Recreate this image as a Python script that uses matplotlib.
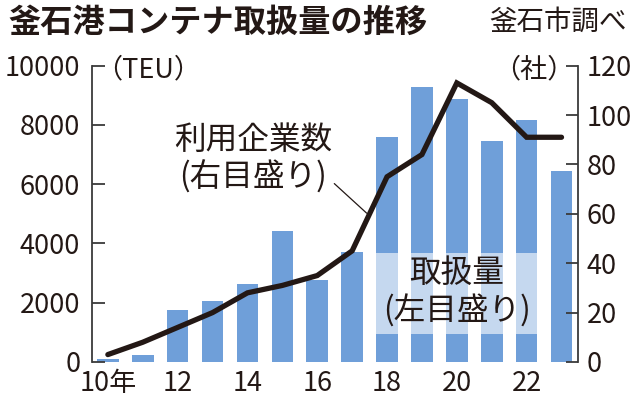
import numpy as np
import matplotlib
matplotlib.use("Agg")
import matplotlib.pyplot as plt
from matplotlib.patches import Rectangle

plt.rcParams['font.family'] = ['Noto Sans CJK JP', 'DejaVu Sans']

years = [2010, 2011, 2012, 2013, 2014, 2015, 2016, 2017, 2018, 2019, 2020, 2021, 2022, 2023]
xlabels = ['10年', '', '12', '', '14', '', '16', '', '18', '', '20', '', '22', '']
teu = [110, 250, 1770, 2050, 2630, 4410, 2780, 3720, 7600, 9290, 8870, 7470, 8160, 6440]
companies = [3, 8, 14, 20, 28, 31, 35, 45, 75, 84, 113, 105, 91, 91]

ink = '#231815'
bar_c = '#6f9fd9'
spine_c = '#3a3a3a'

fig = plt.figure(figsize=(6.4, 4.01), dpi=100)
ax = fig.add_axes([0.144, 0.0973, 0.759, 0.739])
x = np.arange(len(years))
ax.bar(x, teu, width=0.62, color=bar_c, zorder=1)
ax.set_xlim(-0.45, 13.47)
ax.set_ylim(0, 10000)
ax.set_yticks([0, 2000, 4000, 6000, 8000, 10000])
ax.set_xticks(x)
ax.set_xticklabels(xlabels)
for s in ['top', 'bottom', 'right']:
    ax.spines[s].set_visible(False)
ax.spines['left'].set_color(spine_c)
ax.spines['left'].set_linewidth(1.3)
ax.tick_params(axis='y', direction='in', length=9, width=1.3, color=spine_c,
               labelsize=19.5, pad=8.5, labelcolor=ink)
ax.tick_params(axis='x', length=0, labelsize=19.5, pad=5.5, labelcolor=ink)

# highlight box behind left-axis label
ax.add_patch(Rectangle((8 - 0.31, 950), 4.62, 2720, facecolor='white',
                       alpha=0.6, edgecolor='none', zorder=2))
ax.text(10.0, 2990, '取扱量', ha='center', va='center', fontsize=22.8, color=ink, zorder=3)
ax.text(10.0, 1700, '(左目盛り)', ha='center', va='center', fontsize=22.8, color=ink, zorder=3)

ax2 = ax.twinx()
ax2.set_ylim(0, 120)
ax2.set_yticks([0, 20, 40, 60, 80, 100, 120])
ax2.plot(x, companies, color=ink, lw=3.8, solid_capstyle='round', solid_joinstyle='miter', zorder=4)
for s in ['top', 'bottom', 'left']:
    ax2.spines[s].set_visible(False)
ax2.spines['right'].set_color(spine_c)
ax2.spines['right'].set_linewidth(1.3)
ax2.tick_params(axis='y', direction='in', length=9, width=1.3, color=spine_c,
                labelsize=19.5, pad=6.5, labelcolor=ink)

ax2.text(4.17, 89.8, '利用企業数', ha='center', va='center', fontsize=22.8, color=ink)
ax2.text(4.17, 75.0, '(右目盛り)', ha='center', va='center', fontsize=22.8, color=ink)
ax2.annotate('', xy=(7.475, 59.5), xytext=(6.43, 73.0),
             arrowprops=dict(arrowstyle='-', lw=0.9, color=ink))

# unit labels
ax.text(0.006, 0.985, '（TEU）', transform=ax.transAxes, ha='left', va='center',
        fontsize=19.5, color=ink)
ax2.text(0.992, 0.985, '（社）', transform=ax2.transAxes, ha='right', va='center',
         fontsize=19.5, color=ink)

fig.text(8 / 640, 1 - 22 / 401, '釜石港コンテナ取扱量の推移', ha='left', va='center',
         fontsize=23.2, fontweight='bold', color=ink)
fig.text(627 / 640, 1 - 22 / 401, '釜石市調べ', ha='right', va='center',
         fontsize=19.8, color=ink)

fig.savefig('out.png', dpi=100)
